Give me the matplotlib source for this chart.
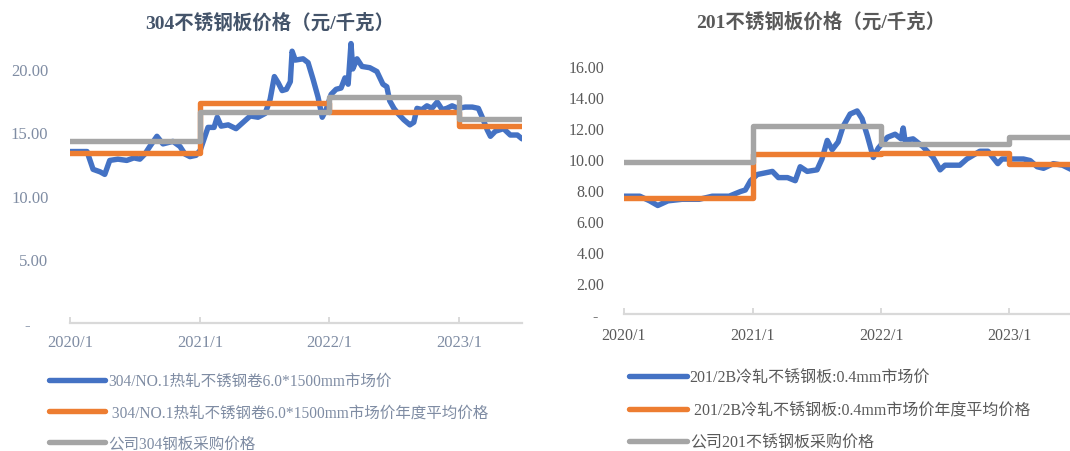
import matplotlib
matplotlib.use("Agg")
import matplotlib.pyplot as plt
from matplotlib.lines import Line2D
from matplotlib.transforms import ScaledTranslation
import pandas as pd

# ---------------- data ----------------
titles = ["304不锈钢板价格（元/千克）", "201不锈钢板价格（元/千克）"]
x_tick_dates = ["2020-01-01", "2021-01-01", "2022-01-01", "2023-01-01"]
x_tick_labels = ["2020/1", "2021/1", "2022/1", "2023/1"]
x_start, x_end = "2020-01-01", "2023-06-28"
step_dates = ["2020-01-01", "2021-01-01", "2022-01-01", "2023-01-01", "2023-06-28"]

# 304 chart
y304_ticks = [0, 5, 10, 15, 20]
y304_labels = ["-", "5.00", "10.00", "15.00", "20.00"]
m304_dates = ["2020-01-01", "2020-01-29", "2020-02-18", "2020-03-06", "2020-03-26", "2020-04-08",
              "2020-04-22", "2020-05-15", "2020-06-09", "2020-06-29", "2020-07-16", "2020-07-30",
              "2020-08-13", "2020-09-02", "2020-09-19", "2020-10-17", "2020-11-06", "2020-11-20",
              "2020-12-04", "2020-12-21", "2021-01-02", "2021-01-13", "2021-01-24", "2021-02-10",
              "2021-02-19", "2021-03-02", "2021-03-22", "2021-04-13", "2021-05-03", "2021-05-23",
              "2021-06-14", "2021-07-04", "2021-07-18", "2021-07-30", "2021-08-10", "2021-08-21",
              "2021-09-02", "2021-09-13", "2021-09-18", "2021-09-27", "2021-10-19", "2021-11-02",
              "2021-11-16", "2021-11-30", "2021-12-12", "2021-12-23", "2022-01-06", "2022-01-20",
              "2022-02-03", "2022-02-14", "2022-02-23", "2022-03-03", "2022-03-08", "2022-03-20",
              "2022-04-03", "2022-04-25", "2022-05-15", "2022-06-01", "2022-06-12", "2022-06-20",
              "2022-07-02", "2022-07-13", "2022-07-30", "2022-08-16", "2022-08-27", "2022-09-05",
              "2022-09-19", "2022-10-03", "2022-10-17", "2022-11-01", "2022-11-15", "2022-11-28",
              "2022-12-13", "2022-12-30", "2023-01-19", "2023-02-08", "2023-02-25", "2023-03-08",
              "2023-03-22", "2023-03-31", "2023-04-14", "2023-05-07", "2023-05-26", "2023-06-15",
              "2023-06-28"]
m304_vals = [13.5, 13.5, 13.5, 12.1, 11.9, 11.7,
             12.8, 12.9, 12.8, 13.0, 12.9, 13.3,
             13.9, 14.7, 14.1, 14.3, 13.9, 13.3,
             13.1, 13.2, 13.6, 14.5, 15.4, 15.4,
             16.2, 15.5, 15.6, 15.3, 15.8, 16.3,
             16.2, 16.5, 17.6, 19.4, 18.9, 18.3,
             18.4, 19.0, 21.4, 20.7, 20.8, 20.5,
             19.2, 17.8, 16.2, 16.8, 18.0, 18.4,
             18.5, 19.3, 18.8, 22.0, 20.0, 20.8,
             20.2, 20.1, 19.8, 18.8, 18.6, 17.5,
             16.9, 16.5, 16.0, 15.6, 15.8, 16.9,
             16.8, 17.1, 16.9, 17.4, 16.8, 16.9,
             17.1, 16.9, 17.0, 17.0, 16.9, 16.2,
             15.2, 14.7, 15.1, 15.3, 14.8, 14.8,
             14.5]
avg304 = [13.35, 17.35, 16.65, 15.5]
buy304 = [14.35, 16.6, 17.8, 16.1]
legend304 = ["304/NO.1热轧不锈钢卷6.0*1500mm市场价",
             " 304/NO.1热轧不锈钢卷6.0*1500mm市场价年度平均价格",
             "公司304钢板采购价格"]

# 201 chart
y201_ticks = [0, 2, 4, 6, 8, 10, 12, 14, 16]
y201_labels = ["-", "2.00", "4.00", "6.00", "8.00", "10.00", "12.00", "14.00", "16.00"]
m201_dates = ["2020-01-01", "2020-02-15", "2020-03-14", "2020-04-06", "2020-05-05", "2020-06-14",
              "2020-08-02", "2020-09-08", "2020-10-26", "2020-11-27", "2020-12-11", "2020-12-26",
              "2021-01-14", "2021-02-26", "2021-03-15", "2021-04-10", "2021-05-02", "2021-05-16",
              "2021-06-05", "2021-07-03", "2021-07-17", "2021-08-01", "2021-08-15", "2021-09-01",
              "2021-09-15", "2021-10-05", "2021-10-25", "2021-11-08", "2021-11-23", "2021-12-10",
              "2021-12-24", "2022-01-19", "2022-02-10", "2022-02-27", "2022-03-05", "2022-03-10",
              "2022-04-02", "2022-04-30", "2022-05-29", "2022-06-18", "2022-07-02", "2022-08-13",
              "2022-09-02", "2022-10-09", "2022-11-01", "2022-11-15", "2022-11-29", "2022-12-11",
              "2023-01-12", "2023-02-10", "2023-03-01", "2023-03-21", "2023-04-08", "2023-05-06",
              "2023-06-01", "2023-06-28"]
m201_vals = [7.6, 7.6, 7.3, 7.0, 7.3, 7.4,
             7.4, 7.6, 7.6, 7.9, 8.0, 8.6,
             9.0, 9.2, 8.8, 8.8, 8.6, 9.5,
             9.2, 9.3, 10.0, 11.2, 10.6, 11.1,
             12.1, 12.9, 13.1, 12.6, 11.5, 10.1,
             10.7, 11.4, 11.6, 11.3, 12.0, 11.2,
             11.3, 10.8, 10.1, 9.3, 9.6, 9.6,
             10.0, 10.5, 10.5, 10.1, 9.7, 10.0,
             10.0, 10.0, 9.9, 9.5, 9.4, 9.7,
             9.6, 9.3]
avg201 = [7.5, 10.3, 10.4, 9.7]
buy201 = [9.8, 12.1, 11.0, 11.4]
legend201 = ["201/2B冷轧不锈钢板:0.4mm市场价",
             " 201/2B冷轧不锈钢板:0.4mm市场价年度平均价格",
             "公司201不锈钢板采购价格"]

# ---------------- style ----------------
BLUE, ORANGE, GRAY = "#4472C4", "#ED7D31", "#A5A5A5"
FAM = ["Liberation Serif", "Noto Sans CJK SC"]
plt.rcParams["font.family"] = FAM
LW = 3.9

W, H = 1070, 452
fig = plt.figure(figsize=(W / 100, H / 100), dpi=100)

def fx(px):
    return px / W

def fy(py):
    return 1 - py / H

ax1 = fig.add_axes([fx(70), fy(324), (522 - 70) / W, (324 - 40) / H])
ax2 = fig.add_axes([fx(624), fy(315), (1072 - 624) / W, (315 - 36) / H])

panels = [
    dict(ax=ax1, d=m304_dates, v=m304_vals, avg=avg304, buy=buy304, yt=y304_ticks,
         ytl=y304_labels, ytop=22.36, tcol="#7F8CA3", ttcol="#44546A", leg=legend304,
         title=titles[0], tx=270, ty=23, lx=49, ly=374, zshift=18,
         tick_fs=12, leg_fs=11.2, lspace=0.98, xpad=8, ypad=15.5),
    dict(ax=ax2, d=m201_dates, v=m201_vals, avg=avg201, buy=buy201, yt=y201_ticks,
         ytl=y201_labels, ytop=18.0, tcol="#595959", ttcol="#595959", leg=legend201,
         title=titles[1], tx=821, ty=22, lx=629, ly=371, zshift=7,
         tick_fs=11.5, leg_fs=11.5, lspace=1.02, xpad=9, ypad=14),
]

for p in panels:
    ax = p["ax"]
    d = pd.to_datetime(p["d"])
    sd = pd.to_datetime(step_dates)
    ax.plot(d, p["v"], color=BLUE, lw=LW, solid_capstyle="round", solid_joinstyle="round", zorder=2)
    ax.plot(sd, p["avg"] + [p["avg"][-1]], color=ORANGE, lw=LW, drawstyle="steps-post",
            solid_joinstyle="round", zorder=3)
    ax.plot(sd, p["buy"] + [p["buy"][-1]], color=GRAY, lw=LW, drawstyle="steps-post",
            solid_joinstyle="round", zorder=4)

    ax.set_xlim(pd.Timestamp(x_start), pd.Timestamp(x_end))
    ax.set_ylim(0, p["ytop"])
    ax.set_xticks(pd.to_datetime(x_tick_dates))
    ax.set_xticklabels(x_tick_labels)
    ax.set_yticks(p["yt"])
    ax.set_yticklabels(p["ytl"])

    for s in ["top", "right", "left"]:
        ax.spines[s].set_visible(False)
    ax.spines["bottom"].set_color("#D9D9D9")
    ax.spines["bottom"].set_linewidth(1.6)
    ax.tick_params(axis="x", direction="in", length=4, width=1.4, color="#D9D9D9",
                   labelsize=p["tick_fs"], labelcolor=p["tcol"], pad=p["xpad"])
    ax.tick_params(axis="y", length=0, labelsize=p["tick_fs"], labelcolor=p["tcol"],
                   pad=p["ypad"])
    # zero label "-" sits further left (accounting format)
    t0 = ax.yaxis.get_major_ticks()[0]
    t0.label1.set_transform(t0.label1.get_transform()
                            + ScaledTranslation(-p["zshift"] / 100, 0, fig.dpi_scale_trans))

    fig.text(fx(p["tx"]), fy(p["ty"]), p["title"], ha="center", va="center",
             fontsize=14, fontweight="bold", color=p["ttcol"], family=FAM)

    handles = [Line2D([], [], color=c, lw=LW, solid_capstyle="round") for c in (BLUE, ORANGE, GRAY)]
    lg = ax.legend(handles, p["leg"], loc="upper left", bbox_to_anchor=(fx(p["lx"]), fy(p["ly"])),
                   bbox_transform=fig.transFigure, frameon=False,
                   prop=dict(family=FAM, size=p["leg_fs"]),
                   handlelength=3.6, handletextpad=0.2, labelspacing=p["lspace"],
                   borderpad=0, borderaxespad=0)
    for t in lg.get_texts():
        t.set_color(p["tcol"])

fig.savefig("out.png", dpi=100, facecolor="white")
